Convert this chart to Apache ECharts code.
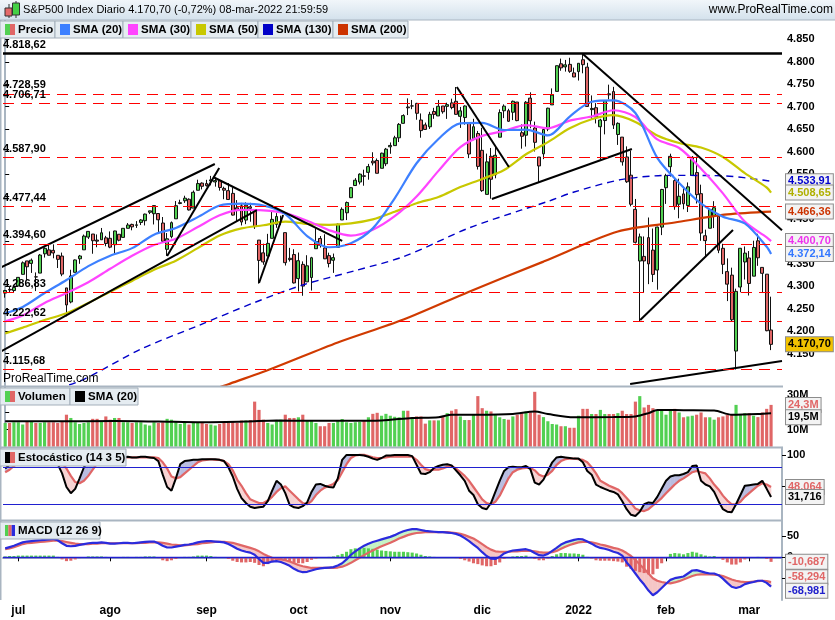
<!DOCTYPE html>
<html>
<head>
<meta charset="utf-8">
<script src="https://cdn.jsdelivr.net/npm/echarts@6/dist/echarts.min.js"></script>
<style>
  body { margin: 0; background: #fff; }
  #chart { width: 835px; height: 620px; }
</style>
</head>
<body>
<div id="chart"></div>
<script>
// ---- data ----
const dates = [
  '2021-06-28','2021-06-29','2021-06-30',
  '2021-07-01','2021-07-02','2021-07-06','2021-07-07','2021-07-08','2021-07-09','2021-07-12','2021-07-13','2021-07-14','2021-07-15','2021-07-16','2021-07-19','2021-07-20','2021-07-21','2021-07-22','2021-07-23','2021-07-26','2021-07-27','2021-07-28','2021-07-29','2021-07-30',
  '2021-08-02','2021-08-03','2021-08-04','2021-08-05','2021-08-06','2021-08-09','2021-08-10','2021-08-11','2021-08-12','2021-08-13','2021-08-16','2021-08-17','2021-08-18','2021-08-19','2021-08-20','2021-08-23','2021-08-24','2021-08-25','2021-08-26','2021-08-27','2021-08-30','2021-08-31',
  '2021-09-01','2021-09-02','2021-09-03','2021-09-07','2021-09-08','2021-09-09','2021-09-10','2021-09-13','2021-09-14','2021-09-15','2021-09-16','2021-09-17','2021-09-20','2021-09-21','2021-09-22','2021-09-23','2021-09-24','2021-09-27','2021-09-28','2021-09-29','2021-09-30',
  '2021-10-01','2021-10-04','2021-10-05','2021-10-06','2021-10-07','2021-10-08','2021-10-11','2021-10-12','2021-10-13','2021-10-14','2021-10-15','2021-10-18','2021-10-19','2021-10-20','2021-10-21','2021-10-22','2021-10-25','2021-10-26','2021-10-27','2021-10-28','2021-10-29',
  '2021-11-01','2021-11-02','2021-11-03','2021-11-04','2021-11-05','2021-11-08','2021-11-09','2021-11-10','2021-11-11','2021-11-12','2021-11-15','2021-11-16','2021-11-17','2021-11-18','2021-11-19','2021-11-22','2021-11-23','2021-11-24','2021-11-26','2021-11-29','2021-11-30',
  '2021-12-01','2021-12-02','2021-12-03','2021-12-06','2021-12-07','2021-12-08','2021-12-09','2021-12-10','2021-12-13','2021-12-14','2021-12-15','2021-12-16','2021-12-17','2021-12-20','2021-12-21','2021-12-22','2021-12-23','2021-12-27','2021-12-28','2021-12-29','2021-12-30','2021-12-31',
  '2022-01-03','2022-01-04','2022-01-05','2022-01-06','2022-01-07','2022-01-10','2022-01-11','2022-01-12','2022-01-13','2022-01-14','2022-01-18','2022-01-19','2022-01-20','2022-01-21','2022-01-24','2022-01-25','2022-01-26','2022-01-27','2022-01-28','2022-01-31',
  '2022-02-01','2022-02-02','2022-02-03','2022-02-04','2022-02-07','2022-02-08','2022-02-09','2022-02-10','2022-02-11','2022-02-14','2022-02-15','2022-02-16','2022-02-17','2022-02-18','2022-02-22','2022-02-23','2022-02-24','2022-02-25','2022-02-28',
  '2022-03-01','2022-03-02','2022-03-03','2022-03-04','2022-03-07','2022-03-08'
];

// [open, close, low, high]
const candles = [
  [4284.9,4290.6,4274.7,4292.1],[4293.2,4291.8,4287.0,4300.5],[4290.6,4297.5,4287.0,4302.4],
  [4300.7,4319.9,4300.7,4320.7],[4326.6,4352.3,4326.6,4355.4],[4356.5,4343.5,4314.4,4356.5],[4351.0,4358.1,4329.8,4361.9],[4321.1,4320.8,4289.4,4330.9],
  [4329.4,4369.6,4329.4,4372.0],[4372.4,4384.6,4364.0,4386.7],[4381.1,4369.2,4368.9,4393.7],[4380.1,4374.3,4362.4,4393.4],[4369.0,4360.0,4340.7,4369.0],
  [4367.4,4327.2,4322.5,4375.1],[4296.4,4258.5,4233.1,4296.4],[4265.1,4323.1,4262.1,4336.8],[4331.1,4358.7,4331.1,4359.7],[4361.3,4367.5,4350.1,4369.9],
  [4381.2,4411.8,4381.2,4415.2],[4409.6,4422.3,4405.5,4422.7],[4416.4,4401.5,4372.5,4416.4],[4402.9,4400.6,4387.0,4415.5],[4403.6,4419.2,4403.6,4429.9],
  [4407.9,4395.3,4389.1,4412.3],
  [4406.9,4387.2,4384.8,4422.2],[4392.7,4423.2,4373.0,4423.8],[4415.9,4402.7,4400.2,4416.2],[4408.9,4429.1,4408.9,4429.8],[4429.1,4436.5,4429.1,4440.8],
  [4437.8,4432.4,4424.7,4439.4],[4435.8,4436.8,4430.0,4445.2],[4442.2,4447.7,4436.4,4449.4],[4446.1,4460.8,4435.5,4461.8],[4464.8,4468.0,4460.8,4468.4],
  [4461.7,4479.7,4437.7,4480.3],[4462.1,4448.1,4417.8,4462.1],[4440.9,4400.3,4397.6,4454.3],[4382.4,4405.8,4367.7,4418.6],[4410.6,4441.7,4406.8,4444.4],
  [4450.3,4479.5,4450.3,4489.9],[4484.4,4486.2,4482.7,4492.8],[4490.5,4496.2,4485.7,4501.7],[4493.8,4470.0,4468.9,4495.9],[4474.1,4509.4,4474.1,4513.3],
  [4513.8,4528.8,4513.8,4537.4],[4529.8,4522.7,4515.8,4531.4],
  [4528.8,4524.1,4522.0,4537.1],[4534.5,4537.0,4524.7,4545.9],[4532.4,4535.4,4521.9,4541.5],[4535.4,4520.0,4513.0,4535.4],[4518.1,4514.1,4493.9,4521.8],
  [4513.0,4493.3,4492.1,4529.9],[4506.9,4458.6,4457.7,4520.5],[4474.8,4468.7,4445.7,4492.0],[4479.3,4443.1,4435.5,4485.7],[4447.5,4480.7,4438.4,4486.9],
  [4477.1,4473.8,4443.8,4485.9],[4469.7,4433.0,4427.8,4471.5],[4402.9,4357.7,4305.9,4402.9],[4374.5,4354.2,4348.0,4394.9],[4367.4,4395.6,4367.4,4416.8],
  [4406.8,4449.0,4406.8,4465.4],[4438.0,4455.5,4430.3,4463.1],[4442.1,4443.1,4436.2,4457.3],[4419.5,4352.6,4346.3,4419.5],[4362.4,4359.5,4355.1,4385.6],
  [4370.7,4307.5,4306.2,4382.6],
  [4317.2,4357.0,4288.5,4375.2],[4348.8,4300.5,4278.9,4355.5],[4309.9,4345.7,4309.9,4369.2],[4319.6,4363.6,4290.5,4365.6],[4383.7,4399.8,4383.7,4429.0],
  [4406.5,4391.3,4386.2,4412.0],[4385.4,4361.2,4360.6,4415.9],[4368.3,4350.7,4342.1,4374.9],[4358.0,4363.8,4329.9,4372.9],[4386.8,4438.3,4386.8,4439.7],
  [4447.7,4471.4,4447.7,4475.8],[4463.7,4486.5,4447.5,4488.8],[4497.3,4519.6,4496.4,4520.4],[4524.4,4536.2,4524.4,4540.9],[4532.2,4549.8,4526.9,4551.4],
  [4546.1,4544.9,4524.0,4559.7],[4553.7,4566.5,4537.4,4572.6],[4578.7,4574.8,4569.2,4598.5],[4580.2,4551.7,4551.7,4584.6],[4562.8,4596.4,4562.8,4597.6],
  [4572.9,4605.4,4567.6,4608.1],
  [4610.6,4613.7,4595.1,4620.3],[4613.3,4630.7,4613.3,4635.2],[4630.7,4660.6,4621.2,4663.5],[4662.9,4680.1,4662.6,4683.0],[4699.3,4697.5,4681.3,4718.5],
  [4701.5,4701.7,4694.4,4714.9],[4707.3,4685.3,4670.9,4708.5],[4670.3,4646.7,4630.9,4684.9],[4659.4,4649.3,4648.3,4664.6],[4655.2,4682.9,4650.4,4688.5],
  [4689.3,4682.8,4672.9,4697.4],[4679.4,4700.9,4679.4,4714.9],[4701.5,4688.7,4684.4,4701.5],[4700.7,4704.5,4672.8,4708.8],[4708.4,4698.0,4694.2,4717.8],
  [4712.0,4682.9,4682.2,4743.8],[4678.5,4690.7,4652.7,4699.4],[4675.8,4701.5,4659.9,4702.9],[4664.6,4594.6,4585.4,4664.6],[4628.8,4655.3,4625.3,4673.0],
  [4640.2,4567.0,4560.0,4646.0],
  [4602.8,4513.0,4510.3,4652.9],[4504.7,4577.1,4504.7,4595.5],[4589.5,4538.4,4495.1,4608.0],[4548.4,4591.7,4540.5,4612.6],[4632.0,4686.8,4632.0,4694.0],
  [4690.9,4701.2,4674.5,4705.1],[4691.0,4667.5,4666.0,4695.3],[4687.6,4712.0,4670.2,4713.6],[4710.3,4669.0,4667.6,4710.3],[4642.0,4634.1,4606.5,4660.5],
  [4636.5,4709.9,4611.2,4712.6],[4719.1,4668.7,4651.9,4732.0],[4652.5,4620.6,4600.2,4666.7],[4587.9,4568.0,4531.1,4587.9],[4595.0,4649.2,4583.2,4651.1],
  [4650.4,4696.6,4645.5,4697.7],[4704.0,4725.8,4704.0,4740.7],[4734.0,4791.2,4734.0,4791.5],[4795.5,4786.4,4780.0,4807.0],[4788.6,4793.1,4778.1,4804.1],
  [4794.2,4778.7,4775.3,4808.9],[4775.2,4766.2,4765.8,4787.0],
  [4778.1,4796.6,4758.2,4796.6],[4804.5,4793.5,4774.3,4818.6],[4788.0,4700.6,4699.4,4797.7],[4693.4,4696.1,4671.3,4725.0],[4697.7,4677.0,4662.7,4708.0],
  [4655.3,4670.3,4582.2,4673.0],[4669.1,4713.1,4638.3,4714.1],[4728.6,4726.4,4716.1,4749.0],[4733.6,4659.0,4650.3,4744.1],[4638.0,4662.9,4614.8,4665.1],
  [4632.2,4577.1,4568.7,4632.2],[4588.0,4532.8,4530.2,4611.6],[4547.4,4482.7,4478.0,4602.1],[4471.4,4397.9,4395.3,4494.5],[4356.3,4410.1,4222.6,4417.4],
  [4366.6,4356.5,4287.1,4411.0],[4408.4,4349.9,4304.8,4453.2],[4380.6,4326.5,4309.5,4428.7],[4336.2,4431.9,4292.5,4432.7],[4431.8,4515.6,4414.0,4516.9],
  [4519.6,4546.5,4483.5,4550.5],[4566.4,4589.4,4544.3,4595.3],[4535.4,4477.4,4470.4,4542.9],[4482.8,4500.5,4451.5,4539.7],[4505.8,4483.9,4471.5,4521.9],
  [4480.0,4521.5,4465.4,4531.3],[4547.0,4587.2,4547.0,4590.0],[4553.2,4504.1,4484.3,4588.9],[4506.3,4418.6,4401.4,4526.3],[4412.6,4401.7,4364.8,4426.2],
  [4429.3,4471.1,4429.3,4472.8],[4455.8,4475.0,4429.7,4489.6],[4456.1,4380.3,4373.8,4456.1],[4384.6,4348.9,4327.2,4394.6],[4332.7,4304.8,4267.1,4362.1],
  [4324.9,4225.5,4221.5,4341.5],[4155.8,4288.7,4114.7,4294.7],[4298.4,4384.7,4286.8,4385.3],[4354.2,4373.9,4315.1,4388.8],
  [4363.1,4306.3,4279.5,4378.5],[4322.6,4386.5,4322.6,4401.5],[4401.3,4363.5,4345.6,4416.8],[4342.1,4328.9,4285.0,4342.1],[4327.0,4201.1,4199.9,4327.0],
  [4202.7,4170.7,4157.9,4276.9]
];

// moving averages: [bar index, value]
const sma20 = [[0,4240],[4,4254],[9,4285],[14,4314],[19,4345],[24,4368],[29,4385],[34,4415],[39,4430],[44,4454],[49,4480],[54,4484],[59,4480],[64,4461],[69,4412],[74,4387],[79,4396],[84,4429],[89,4496],[94,4574],[99,4628],[104,4663],[109,4664],[114,4648],[119,4649],[124,4636],[129,4678],[134,4711],[139,4714],[144,4686],[149,4586],[154,4530],[159,4484],[164,4455],[169,4440],[174,4388],[175,4372.14]];
const sma30 = [[0,4222],[4,4235],[9,4263],[14,4285],[19,4309],[24,4339],[29,4368],[34,4392],[39,4406],[44,4432],[49,4458],[54,4470],[59,4469],[64,4463],[69,4446],[74,4425],[79,4413],[84,4426],[89,4456],[94,4500],[99,4557],[104,4610],[109,4635],[114,4646],[119,4659],[124,4652],[129,4669],[134,4678],[139,4692],[144,4677],[149,4627],[154,4608],[159,4562],[164,4507],[169,4444],[174,4409],[175,4400.70]];
const sma50 = [[0,4195],[4,4208],[9,4225],[14,4240],[19,4263],[24,4288],[29,4312],[34,4337],[39,4357],[44,4385],[49,4413],[54,4429],[59,4436],[64,4444],[69,4439],[74,4437],[79,4440],[84,4449],[89,4466],[94,4485],[99,4499],[104,4521],[109,4539],[114,4559],[119,4594],[124,4621],[129,4652],[134,4672],[139,4681],[144,4666],[149,4636],[154,4619],[159,4609],[164,4588],[169,4552],[174,4520],[175,4508.65]];
const sma130 = [[12,4072],[18,4093],[31,4160],[44,4212],[57,4264],[68,4303],[80,4335],[91,4366],[106,4430],[118,4470],[124,4489],[130,4510],[141,4538],[152,4547],[164,4546],[175,4533.91]];
const sma200 = [[48,4072],[51,4082],[61,4117],[76,4175],[91,4226],[106,4288],[123,4355],[140,4422],[153,4442],[165,4460],[175,4466.36]];

// volume in millions
const volume = [
  13.8,13.8,14.2,14.2,12.9,14.8,14.8,13.8,13.8,14.2,14.2,14.2,13.8,14.8,18.6,16.7,14.2,13.2,13.8,14.2,
  16.2,16.2,14.8,17.6,15.7,16.7,16.7,14.2,14.2,13.8,14.2,14.2,12.9,12.3,14.2,13.8,14.2,16.2,15.7,14.8,
  13.2,13.8,12.9,13.8,14.2,13.8,13.2,12.9,12.3,13.2,13.8,13.8,14.8,13.8,15.2,15.2,15.5,26.2,21.4,15.7,
  13.8,12.9,14.8,15.7,18.6,16.7,16.7,17.1,18.6,15.1,15.1,13.8,11.9,11.9,13.8,13.8,15.1,16.1,14.2,13.8,
  14.2,14.4,15.1,17.1,19.1,19.7,18.0,19.1,18.0,17.4,17.1,20.9,20.9,17.1,17.6,17.6,13.4,15.3,15.3,15.3,
  17.6,19.5,20.9,21.8,17.6,15.5,15.5,18.9,29.4,22.4,20.9,20.5,18.9,17.1,16.1,15.7,17.6,18.6,19.9,20.5,
  20.0,31.9,18.6,17.2,14.8,13.2,12.9,11.9,11.9,11.0,11.0,18.0,22.0,22.0,19.0,19.0,21.4,19.0,19.0,19.0,
  19.5,20.9,19.0,19.0,26.2,29.4,22.8,24.3,22.4,20.9,20.9,18.6,20.9,22.0,19.9,17.1,17.6,18.0,18.6,19.9,
  17.1,17.1,15.7,17.1,17.6,18.6,18.6,24.3,19.0,19.5,19.5,18.0,17.2,19.9,22.0,24.3
];
const volSma = [[0,14.8],[12,14.8],[25,14.9],[35,14.6],[45,14.2],[55,14.6],[62,15.2],[70,15.1],[78,15.1],[86,15.3],[93,16.7],[99,17.1],[102,18.6],[108,18.6],[116,19.0],[121,20.5],[124,19.0],[130,17.1],[139,17.2],[144,17.6],[147,19.5],[149,21.4],[155,21.2],[162,21.0],[166,18.6],[172,19.0],[175,19.5]];

// stochastic (14 3 5)
const stochK = [
  78,84,90,95,97,96,96,93,95,97,96,93,85,70,48,38,45,62,80,92,
  94,94,96,95,93,95,95,96,97,96,96,97,97,96,95,90,68,48,42,62,
  85,90,91,92,92,93,93,93,93,92,90,80,65,45,30,22,16,14,15,16,
  25,42,58,52,38,19,15,14,17,23,40,52,53,50,48,47,62,92,100,100,
  100,100,99,97,94,92,95,99,99,100,100,100,100,98,84,70,69,72,79,82,
  84,85,83,75,67,58,42,35,20,14,12,22,40,58,74,80,81,80,80,82,
  77,55,52,60,74,88,96,97,96,95,94,94,88,74,68,52,48,45,42,40,
  36,25,12,3,1,8,20,23,22,32,45,58,65,67,67,69,72,82,83,58,
  52,49,40,25,12,8,7,20,35,50,51,52,53,58,45,31.716
];
const stochD = [
  72,76,82,87,91,93,94,94,94,95,95,94,92,87,78,66,56,54,58,66,
  76,86,92,94,94,94,95,96,96,96,96,96,96,96,96,95,88,78,65,62,
  64,70,76,82,88,91,92,93,92,92,90,85,75,60,50,38,28,25,22,22,
  26,32,40,46,49,42,35,28,22,20,25,35,42,47,50,53,59,72,85,95,
  99,100,100,98,96,95,95,96,97,97,97,97,97,97,92,84,77,75,76,76,
  78,81,82,78,72,66,58,48,38,28,22,20,24,34,48,62,72,76,78,79,
  79,75,68,65,68,74,84,90,93,94,94,93,92,88,80,70,58,54,50,47,
  44,38,30,22,13,10,9,12,18,24,30,38,45,52,58,62,67,72,74,72,
  70,62,52,44,34,26,20,20,24,32,38,44,50,54,52,48.064
];

// MACD (12 26 9)
const macdLine = [
  21,24,27,31,35,37,38,39,40,41,42,43,40,33,27,26,27,29,31,33,
  34,34,35,34,32,32,33,34,34,33,34,35,36,37,37,33,27,23,23,25,
  27,29,30,32,35,37,38,38,37,36,35,31,26,20,16,13,11,6,-4,-13,
  -13,-10,-9,-11,-15,-20,-27,-32,-35,-34,-31,-28,-26,-25,-24,-23,-19,-14,-5,6,
  14,21,27,32,36,39,42,45,48,52,57,61,64,66,66,64,62,61,60,59,
  59,58,57,55,51,45,38,30,22,12,3,-3,-4,1,9,13,16,17,18,19,
  16,10,5,4,8,15,22,30,35,38,41,43,42,37,32,26,22,20,17,13,
  10,4,-12,-24,-38,-52,-64,-78,-89,-82,-72,-62,-53,-49,-47,-45,-38,-31,-30,-33,
  -36,-38,-38,-42,-50,-60,-69,-72,-69,-63,-60,-58,-55,-55,-60,-68.981
];
const macdSignal = [
  19,21,24,27,31,33,34,35,36,37,38,39,39,38,36,34,32,31,31,31,
  32,32,33,33,33,33,33,33,33,33,33,34,34,35,35,35,34,32,30,29,
  28,28,29,30,31,33,34,35,36,36,36,35,34,31,28,25,22,19,14,8,
  3,-1,-3,-5,-7,-10,-14,-18,-21,-23,-25,-25,-25,-25,-25,-25,-24,-22,-18,-13,
  -7,-1,5,11,16,21,26,30,34,39,44,48,52,55,57,58,59,59,59,59,
  59,59,58,57,55,52,48,44,38,31,24,18,14,13,13,13,14,14,15,15,
  15,14,12,11,11,12,15,20,25,29,32,35,36,36,35,33,30,28,25,22,
  20,16,10,3,-6,-17,-27,-38,-49,-55,-58,-60,-61,-59,-56,-52,-48,-44,-41,-40,
  -40,-40,-41,-42,-44,-48,-52,-55,-57,-58,-58,-57,-56,-55,-56,-58.294
];
const macdHist = [
  2,3,3,4,4,4,4,4,4,4,4,4,1,-5,-9,-8,-5,-2,0,2,
  2,2,2,1,-1,-1,0,1,1,0,1,1,2,2,2,-2,-7,-9,-7,-4,
  -1,1,1,2,4,4,4,3,1,0,-1,-4,-8,-11,-12,-12,-11,-13,-18,-21,
  -16,-9,-6,-6,-8,-10,-13,-14,-14,-11,-6,-3,-1,0,1,2,5,8,13,19,
  21,22,22,21,20,18,16,15,14,13,13,13,12,11,9,6,3,2,1,0,
  0,-1,-1,-2,-4,-7,-10,-14,-16,-19,-21,-21,-18,-12,-4,0,2,3,3,4,
  1,-4,-7,-7,-3,3,7,10,10,9,9,8,6,1,-3,-7,-8,-8,-8,-9,
  -10,-12,-22,-27,-32,-35,-37,-40,-40,-27,-14,-2,8,10,9,7,10,13,11,7,
  4,2,3,0,-6,-12,-17,-17,-12,-5,-2,-1,1,0,-4,-10.687
];

// horizontal price levels and trend lines ([bar index, price] end points)
const levels = [4818.62, 4728.59, 4706.71, 4587.90, 4477.44, 4394.60, 4286.83, 4222.62, 4115.68];
const trendLines = [
  [[-1.2, 4340.8], [47.9, 4572.3]],
  [[-1.2, 4153.7], [57.5, 4469.9]],
  [[37, 4367.5], [48.9, 4563.4]],
  [[47.5, 4543.4], [77, 4401.0]],
  [[58, 4307.4], [63.5, 4458.8]],
  [[103.2, 4743.8], [115.1, 4565.7]],
  [[111.2, 4494.4], [143.2, 4605.7]],
  [[132, 4817.3], [177.5, 4424.7]],
  [[145.1, 4225.0], [166.3, 4425.4]],
  [[142.8, 4082.6], [177.5, 4133.8]]
];

const priceTicks = [4150, 4200, 4250, 4300, 4350, 4400, 4450, 4500, 4550, 4600, 4650, 4700, 4750, 4800, 4850];
const volTicks = [10, 20, 30];
const stochTicks = [50, 100];
const macdTicks = [-50, 0, 50];
const stochLevels = [80, 20];
const monthNames = ['ene', 'feb', 'mar', 'abr', 'may', 'jun', 'jul', 'ago', 'sep', 'oct', 'nov', 'dic'];

// ---- chart ----
const FONT = 'Liberation Sans, Arial, sans-serif';
const GREEN = '#52d052';
const RED = '#e06666';
const AXIS = '#a9b5c1';
const HIDDEN = { color: 'rgba(0,0,0,0)', width: 0 };
const cats = dates.concat(['', '']);
const last = dates.length - 1;

function fmtNum(v, d) {
  const s = Math.abs(v).toFixed(d).split('.');
  const int = s[0].replace(/\B(?=(\d{3})+(?!\d))/g, '.');
  return (v < 0 ? '-' : '') + int + (d ? ',' + s[1] : '');
}

function isMonthStart(i) {
  return i > 0 && i < dates.length && dates[i].slice(0, 7) !== dates[i - 1].slice(0, 7);
}

function boxLabel(text, color, bg, dy) {
  return {
    show: true, position: 'end', formatter: text, color: color,
    backgroundColor: bg || '#f3f3f3', borderColor: '#8c8c8c', borderWidth: 1,
    padding: [2, 2, 1, 2], fontFamily: FONT, fontWeight: 'bold', fontSize: 11,
    distance: 4, offset: [0, dy || 0]
  };
}

function valueTag(v, text, color, bg, dy) {
  return {
    symbol: 'none', silent: true, animation: false, z: 20,
    data: [{ yAxis: v, lineStyle: HIDDEN, label: boxLabel(text, color, bg, dy) }]
  };
}

function band(xi, yi, a, b, upColor, downColor) {
  const poly = (pts, c) => ({ type: 'polygon', shape: { points: pts }, style: { fill: c, stroke: c, lineWidth: 0.5 } });
  return {
    type: 'custom', xAxisIndex: xi, yAxisIndex: yi, silent: true, z: 2,
    data: a.slice(0, -1).map((v, i) => [i, v]),
    renderItem: (params, api) => {
      const i = api.value(0);
      const A0 = api.coord([i, a[i]]), A1 = api.coord([i + 1, a[i + 1]]);
      const B0 = api.coord([i, b[i]]), B1 = api.coord([i + 1, b[i + 1]]);
      const d0 = a[i] - b[i], d1 = a[i + 1] - b[i + 1];
      if (d0 * d1 < 0) {
        const t = d0 / (d0 - d1);
        const X = [A0[0] + t * (A1[0] - A0[0]), A0[1] + t * (A1[1] - A0[1])];
        return { type: 'group', children: [
          poly([A0, X, B0], d0 > 0 ? upColor : downColor),
          poly([X, A1, B1], d1 > 0 ? upColor : downColor)
        ] };
      }
      return poly([A0, A1, B1, B0], d0 + d1 >= 0 ? upColor : downColor);
    }
  };
}

function smaLine(data, color, width, type, textColor) {
  const v = data[data.length - 1][1];
  return {
    type: 'line', xAxisIndex: 4, yAxisIndex: 0, data: data, symbol: 'none', smooth: 0.3,
    lineStyle: { color: color, width: width, type: type || 'solid' }, z: 5, silent: true,
    markLine: valueTag(v, fmtNum(v, 2), textColor || color)
  };
}

function legendBox(x, y, w, text, colors) {
  const iw = 10 / colors.length;
  return {
    type: 'group', x: x, y: y,
    children: [
      { type: 'rect', z: 100, shape: { x: 0, y: 0, width: w, height: 17 }, style: { fill: '#e5ecf1', stroke: '#a3afba', lineWidth: 1 } }
    ].concat(colors.map((c, k) => ({
      type: 'rect', z: 101, shape: { x: 5 + k * iw, y: 3, width: iw, height: 11 }, style: { fill: c }
    }))).concat([{
      type: 'text', z: 102, x: 18, y: 9,
      style: { text: text, font: 'bold 11.5px ' + FONT, fill: '#000', verticalAlign: 'middle' }
    }])
  };
}

const grids = [
  { left: 3, right: 53, top: 20, height: 366 },
  { left: 3, right: 53, top: 387, height: 59.7 },
  { left: 3, right: 53, top: 447.7, height: 72.3 },
  { left: 3, right: 53, top: 521, height: 79 }
];

function catAxis(g, show) {
  return {
    type: 'category', gridIndex: g, data: cats, boundaryGap: true, show: show,
    axisLine: { show: show, lineStyle: { color: AXIS, width: 2 } },
    axisTick: { show: show, interval: isMonthStart, alignWithLabel: true, length: 4, lineStyle: { color: '#000' } },
    axisLabel: {
      show: show, interval: isMonthStart, margin: 5, color: '#000', fontWeight: 'bold', fontSize: 12, fontFamily: FONT,
      formatter: (v) => { const m = +v.slice(5, 7); return m === 1 ? v.slice(0, 4) : monthNames[m - 1]; }
    },
    splitLine: { show: false }
  };
}

function valAxis(g, min, max, ticks, fmt) {
  return {
    type: 'value', gridIndex: g, position: 'right', min: min, max: max, z: 0,
    axisLine: { show: true, lineStyle: { color: AXIS, width: 2 } },
    axisTick: { show: true, length: 4, customValues: ticks, lineStyle: { color: '#000' } },
    axisLabel: { customValues: ticks, formatter: fmt, margin: 5, color: '#000', fontWeight: 'bold', fontSize: 11, fontFamily: FONT },
    splitLine: { show: false }
  };
}

const levelLines = levels.map((v, k) => ({
  yAxis: v,
  lineStyle: k === 0 ? { color: '#000', width: 2.5, type: 'solid' } : { color: '#ff0000', width: 1, type: [11, 7] },
  label: {
    show: true, position: 'insideStartTop', formatter: fmtNum(v, 2), color: '#000',
    fontWeight: 'bold', fontSize: 11, fontFamily: FONT, distance: [0, 3]
  }
}));
levelLines.push({
  yAxis: candles[last][1], lineStyle: HIDDEN,
  label: boxLabel(fmtNum(candles[last][1], 2), '#000', '#f2c200')
});

const series = [
  {
    type: 'candlestick', xAxisIndex: 0, yAxisIndex: 0, data: candles, barWidth: '78%', z: 3,
    itemStyle: { color: GREEN, color0: RED, borderColor: '#111', borderColor0: '#111', borderWidth: 1 },
    markLine: { symbol: 'none', silent: true, animation: false, z: 20, data: levelLines }
  },
  smaLine(sma200, '#d03a00', 2.2, 'solid', '#cc3300'),
  smaLine(sma130, '#0000c8', 1.4, [7, 5], '#0000cc'),
  smaLine(sma50, '#c8c800', 2.2, 'solid', '#b0b000'),
  smaLine(sma30, '#ff44ff', 2.2, 'solid', '#ee33ee'),
  smaLine(sma20, '#3d80ff', 2.2, 'solid', '#3377ff')
];

trendLines.forEach(t => series.push({
  type: 'line', xAxisIndex: 4, yAxisIndex: 0, data: t, symbol: 'none', silent: true, z: 6,
  lineStyle: { color: '#000', width: 2 }
}));

series.push(
  {
    type: 'bar', xAxisIndex: 1, yAxisIndex: 1, barWidth: '72%', silent: true,
    data: volume.map((v, i) => ({ value: v, itemStyle: { color: candles[i][1] >= candles[i][0] ? GREEN : RED } })),
    markLine: valueTag(volume[last], fmtNum(volume[last], 1) + 'M', RED)
  },
  {
    type: 'line', xAxisIndex: 5, yAxisIndex: 1, data: volSma, symbol: 'none', smooth: 0.3, silent: true, z: 5,
    lineStyle: { color: '#000', width: 2 },
    markLine: valueTag(volSma[volSma.length - 1][1], fmtNum(volSma[volSma.length - 1][1], 1) + 'M', '#000', null, 4)
  },
  band(2, 2, stochK, stochD, '#b9bde0', '#f7d3d3'),
  {
    type: 'line', xAxisIndex: 2, yAxisIndex: 2, data: stochD, symbol: 'none', silent: true, z: 4,
    lineStyle: { color: RED, width: 2.2 },
    markLine: valueTag(stochD[last], fmtNum(stochD[last], 3), RED)
  },
  {
    type: 'line', xAxisIndex: 2, yAxisIndex: 2, data: stochK, symbol: 'none', silent: true, z: 5,
    lineStyle: { color: '#000', width: 2 },
    markLine: {
      symbol: 'none', silent: true, animation: false, z: 20,
      data: stochLevels.map(v => ({ yAxis: v, lineStyle: { color: '#2020d0', width: 1.2, type: 'solid' }, label: { show: false } }))
        .concat([{ yAxis: stochK[last], lineStyle: HIDDEN, label: boxLabel(fmtNum(stochK[last], 3), '#000') }])
    }
  },
  band(3, 3, macdLine, macdSignal, '#c5f2c5', '#f5c6c6'),
  {
    type: 'bar', xAxisIndex: 3, yAxisIndex: 3, barWidth: '70%', silent: true, z: 3,
    data: macdHist.map(v => ({ value: v, itemStyle: { color: v >= 0 ? GREEN : RED } })),
    markLine: {
      symbol: 'none', silent: true, animation: false, z: 20,
      data: [
        { yAxis: 0, lineStyle: { color: '#2020d0', width: 1.4, type: 'solid' }, label: { show: false } },
        { yAxis: macdHist[last], lineStyle: HIDDEN, label: boxLabel(fmtNum(macdHist[last], 3), RED) }
      ]
    }
  },
  {
    type: 'line', xAxisIndex: 3, yAxisIndex: 3, data: macdSignal, symbol: 'none', silent: true, z: 4,
    lineStyle: { color: RED, width: 2.2 },
    markLine: valueTag(macdSignal[last], fmtNum(macdSignal[last], 3), RED, null, -5)
  },
  {
    type: 'line', xAxisIndex: 3, yAxisIndex: 3, data: macdLine, symbol: 'none', silent: true, z: 5,
    lineStyle: { color: '#2b2bdd', width: 2.2 },
    markLine: valueTag(macdLine[last], fmtNum(macdLine[last], 3), '#2020cc', null, 4)
  }
);

const chart = echarts.init(document.getElementById('chart'), null, { renderer: 'canvas' });

chart.setOption({
  animation: false,
  backgroundColor: '#fff',
  textStyle: { fontFamily: FONT },
  grid: grids,
  xAxis: [
    catAxis(0, false), catAxis(1, false), catAxis(2, false), catAxis(3, true),
    { type: 'value', gridIndex: 0, min: -0.5, max: cats.length - 0.5, show: false },
    { type: 'value', gridIndex: 1, min: -0.5, max: cats.length - 0.5, show: false }
  ],
  yAxis: [
    valAxis(0, 4078, 4893, priceTicks, v => fmtNum(v, 0)),
    valAxis(1, 0, 34.7, volTicks, v => v + 'M'),
    valAxis(2, -5.5, 111.7, stochTicks, v => String(v)),
    valAxis(3, -100.2, 85.2, macdTicks, v => String(v))
  ],
  series: series,
  graphic: [
    {
      type: 'rect', z: 90, shape: { x: 0, y: 0, width: 835, height: 20 },
      style: { fill: new echarts.graphic.LinearGradient(0, 0, 0, 1, [{ offset: 0, color: '#f1f6fa' }, { offset: 1, color: '#d3e1ec' }]) }
    },
    { type: 'rect', z: 91, shape: { x: 0, y: 19.5, width: 835, height: 1 }, style: { fill: '#a9b5c1' } },
    { type: 'rect', z: 91, shape: { x: 8.5, y: 4, width: 1, height: 14 }, style: { fill: '#333' } },
    { type: 'rect', z: 92, shape: { x: 5, y: 8, width: 7, height: 8 }, style: { fill: '#e46a6a', stroke: '#333', lineWidth: 1 } },
    { type: 'rect', z: 91, shape: { x: 15.5, y: 1, width: 1, height: 17 }, style: { fill: '#333' } },
    { type: 'rect', z: 92, shape: { x: 12.5, y: 3, width: 7, height: 12 }, style: { fill: '#45d045', stroke: '#333', lineWidth: 1 } },
    {
      type: 'text', z: 92, x: 23, y: 10,
      style: { text: 'S&P500 Index Diario 4.170,70 (-0,72%) 08-mar-2022 21:59:59', font: '11px ' + FONT, fill: '#000', verticalAlign: 'middle' }
    },
    {
      type: 'text', z: 92, x: 833, y: 10,
      style: { text: 'www.ProRealTime.com', font: '12px ' + FONT, fill: '#000', align: 'right', verticalAlign: 'middle' }
    },
    { type: 'rect', z: 95, shape: { x: 0, y: 20, width: 1.5, height: 580 }, style: { fill: AXIS } },
    { type: 'rect', z: 95, shape: { x: 0, y: 385.5, width: 783, height: 2 }, style: { fill: AXIS } },
    { type: 'rect', z: 95, shape: { x: 0, y: 446.5, width: 783, height: 2 }, style: { fill: AXIS } },
    { type: 'rect', z: 95, shape: { x: 0, y: 519.5, width: 783, height: 2 }, style: { fill: AXIS } },
    {
      type: 'text', z: 96, x: 3, y: 373,
      style: { text: 'ProRealTime.com', font: '12px ' + FONT, fill: '#000' }
    },
    legendBox(0, 21, 55, 'Precio', [GREEN, RED]),
    legendBox(55, 21, 68, 'SMA (20)', ['#3d80ff']),
    legendBox(123, 21, 68, 'SMA (30)', ['#ff44ff']),
    legendBox(191, 21, 67, 'SMA (50)', ['#c8c800']),
    legendBox(258, 21, 75, 'SMA (130)', ['#0000c8']),
    legendBox(333, 21, 75, 'SMA (200)', ['#cc3300']),
    legendBox(0, 388, 70, 'Volumen', [GREEN, RED]),
    legendBox(70, 388, 68, 'SMA (20)', ['#000']),
    legendBox(0, 449, 126, 'Estocástico (14 3 5)', ['#000', RED]),
    legendBox(0, 522, 100, 'MACD (12 26 9)', [GREEN, RED, '#2b2bdd'])
  ]
});
</script>
</body>
</html>
